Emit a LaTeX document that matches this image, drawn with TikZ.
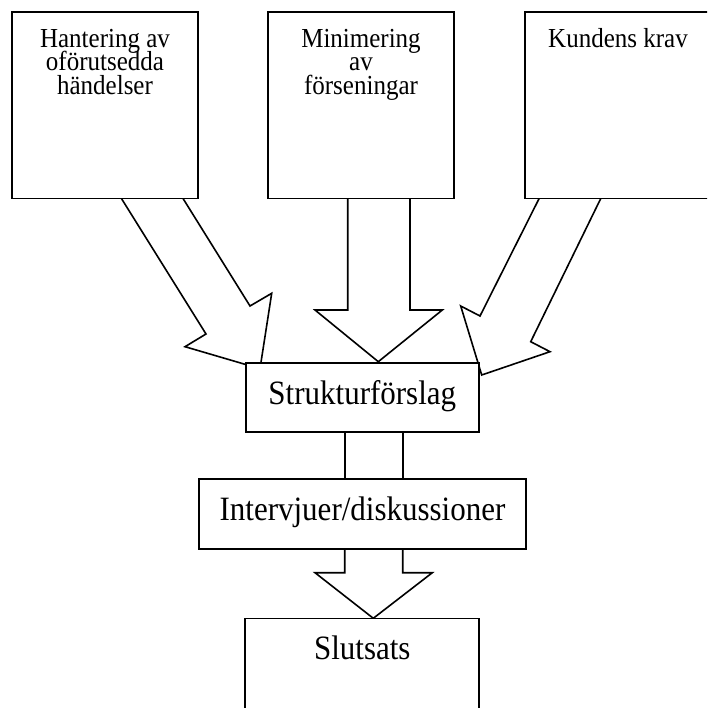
\documentclass[tikz,border=0pt]{standalone}
\usepackage{fontspec}
\usepackage{graphicx}
\setmainfont{Liberation Serif}
\usetikzlibrary{calc}
% glyphs are set slightly taller than the font's natural proportions
\newcommand\tallglyphs[1]{\scalebox{1}[1.1]{#1}}
\begin{document}
\begin{tikzpicture}[x=1pt,y=-1pt,
  line width=1.6pt, line join=miter,
  box/.style={draw=black, fill=white, rectangle, inner sep=0pt, outer sep=0pt, anchor=north west},
  blockarrow/.style={draw=black, fill=white},
  smalltext/.style={inner sep=0pt, anchor=base, font=\fontsize{25}{30}\selectfont},
  bigtext/.style={inner sep=0pt, font=\fontsize{31}{36}\selectfont}]
\useasboundingbox (0,0) rectangle (707,708);
\clip (0,0) rectangle (707,708);

% block arrows from the three factors down to the proposal
\draw[blockarrow] (115.5,189) -- (206,334) -- (185,346.7) -- (260,368.7)
  -- (271.7,293.3) -- (250,306) -- (177.1,189) -- cycle;
\draw[blockarrow] (347.7,189) -- (347.7,310) -- (315,310) -- (378.3,361.7)
  -- (442.3,310) -- (410,310) -- (410,189) -- cycle;
\draw[blockarrow] (543.9,189) -- (480,316) -- (460.7,306) -- (481.7,375)
  -- (550,351.7) -- (530.7,341.7) -- (605.4,189) -- cycle;

% shaft between proposal and interviews
\draw[blockarrow] (344.7,425) rectangle (402.7,485);

% arrow from interviews to conclusion
\draw[blockarrow] (344.7,540) -- (344.7,572.7) -- (315,572.7) -- (373.3,618.3)
  -- (432.3,572.7) -- (402.7,572.7) -- (402.7,540) -- cycle;

% factor boxes
\node[box, minimum width=186pt, minimum height=186.5pt] (hant) at (12,12) {};
\node[box, minimum width=186pt, minimum height=186.5pt] (mini) at (268,12) {};
\node[box, minimum width=186pt, minimum height=186.5pt] (kund) at (525,12) {};

\node[smalltext] (hant1) at (105,47.5) {\tallglyphs{Hantering av}};
\node[smalltext] (hant2) at (105,70.8) {\tallglyphs{oförutsedda}};
\node[smalltext] (hant3) at (105,94.1) {\tallglyphs{händelser}};
\node[smalltext] (mini1) at (361,47.5) {\tallglyphs{Minimering}};
\node[smalltext] (mini2) at (361,70.8) {\tallglyphs{av}};
\node[smalltext] (mini3) at (361,94.1) {\tallglyphs{förseningar}};
\node[smalltext] (kund1) at (618,47.5) {\tallglyphs{Kundens krav}};

% proposal, interviews and conclusion
\node[box, minimum width=233.3pt, minimum height=69pt] (strukt) at (245.7,362.7) {};
\node[bigtext, anchor=base] (strukttxt) at (362.3,404) {\tallglyphs{Strukturförslag}};
\node[box, minimum width=327pt, minimum height=70pt] (interv) at (199,479) {};
\node[bigtext, anchor=base] (intervtxt) at (362.5,520) {\tallglyphs{Intervjuer/diskussioner}};
\node[box, minimum width=234pt, minimum height=95pt] (slut) at (245,618.3) {};
\node[bigtext, anchor=base] (sluttxt) at (362.3,659.5) {\tallglyphs{Slutsats}};
\end{tikzpicture}
\end{document}
